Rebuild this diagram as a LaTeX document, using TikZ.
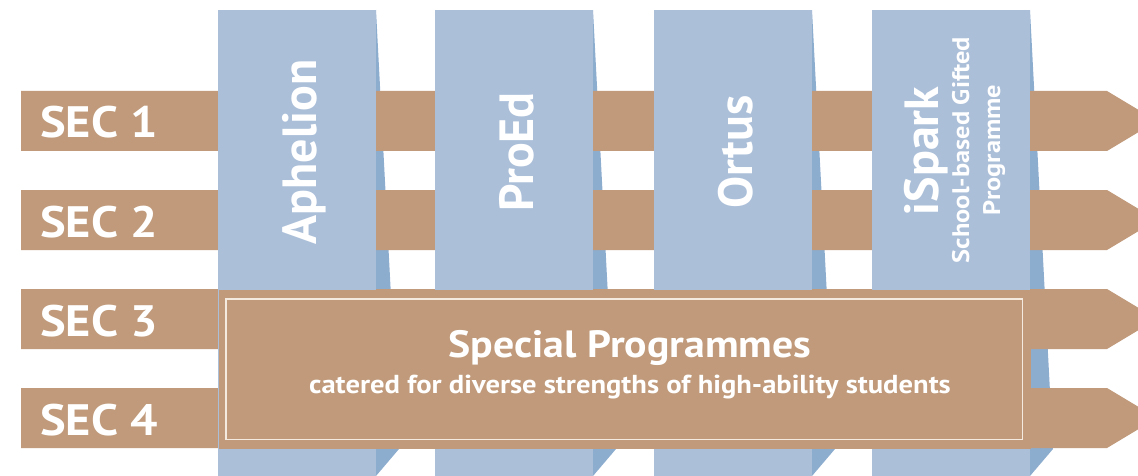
\documentclass[tikz,border=0pt]{standalone}
\usepackage{fontspec}
\setmainfont{PT Sans}
\newfontfamily\widesans[FakeStretch=1.1]{PT Sans}
\usetikzlibrary{calc,positioning}
\definecolor{tan}{HTML}{C09A7A}
\definecolor{paleblue}{HTML}{ABBFD9}
\definecolor{shadeblue}{HTML}{8DADCF}
\definecolor{cream}{HTML}{F4EADF}

\begin{document}
\begin{tikzpicture}[x=1pt,y=-1pt,font=\bfseries]

\tikzset{seclabel/.style={anchor=base west,text=white,inner sep=0pt,font=\widesans\fontsize{44}{48}\selectfont\bfseries},
collabel/.style={rotate=90,anchor=base,text=white,inner sep=0pt,font=\fontsize{48}{52}\selectfont\bfseries},
sublabel/.style={rotate=90,anchor=base,text=white,inner sep=0pt,font=\widesans\fontsize{24}{28}\selectfont\bfseries},
colbox/.style={fill=paleblue},
colshade/.style={fill=shadeblue},
secarrow/.style={fill=tan},
titlelabel/.style={anchor=base,text=white,inner sep=0pt,font=\widesans\fontsize{38}{42}\selectfont\bfseries},
subtitlelabel/.style={anchor=base,text=white,inner sep=0pt,font=\widesans\fontsize{26}{30}\selectfont\bfseries}}

\clip (0,0) rectangle (1138,476);

% Column shadows
\foreach \x in {218,435,654,872} \fill[colshade] (\x+158,10) -- (\x+181,449) -- (\x+158,476) -- cycle;

% Year arrows
\foreach \n/\y in {1/91,2/190,3/289,4/388} {
\fill[secarrow] (21,\y) -- (1107,\y) -- (1157,\y+30) -- (1107,\y+60) -- (21,\y+60) -- cycle;
\node[seclabel] (sec\n) at (40,\y+47) {SEC \n};
}

% Columns
\foreach \x in {218,435,654,872} \fill[colbox] (\x,10) rectangle +(158,466);

% Column titles
\node[collabel] (aphelion) at (316,152) {Aphelion};
\node[collabel] (proed) at (533,152) {ProEd};
\node[collabel] (ortus) at (752,152) {Ortus};
\node[collabel] (ispark) at (938,151) {iSpark};
\node[sublabel] (isparkA) at (969,150) {School-based Gifted};
\node[sublabel] (isparkB) at (1000,150) {Programme};

% Special programmes box
\node[fill=tan,minimum width=812pt,minimum height=159pt,anchor=north west,inner sep=0pt] (special) at (219,290) {};
\draw[cream,line width=1.2pt] ($(special.north west)+(7,9)$) rectangle ($(special.south east)+(-9,-10)$);
\node[titlelabel] (title) at (630,357) {Special Programmes};
\node[subtitlelabel] (subtitle) at (630,393) {catered for diverse strengths of high-ability students};

\end{tikzpicture}
\end{document}
